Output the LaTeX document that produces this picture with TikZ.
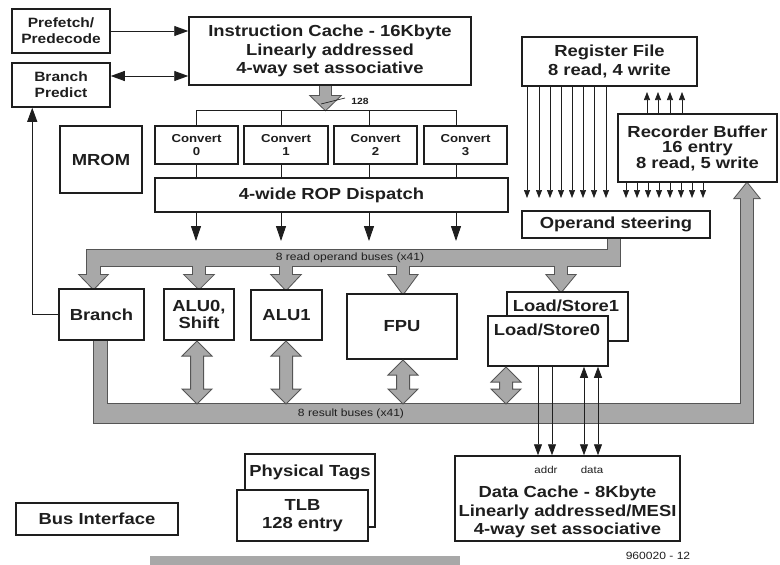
\documentclass[tikz,border=0pt]{standalone}
\usepackage{fontspec}
\setmainfont{Liberation Sans}[FakeStretch=1.15]
\usetikzlibrary{arrows.meta,calc}
\definecolor{busfill}{HTML}{A8A8A8}
\definecolor{busline}{HTML}{555555}
\definecolor{ink}{HTML}{1E1E1E}
\newcommand\myBig{\fontsize{16}{18.5}\selectfont\bfseries}
\newcommand\myTight{\fontsize{16}{15.5}\selectfont\bfseries}
\newcommand\myAlu{\fontsize{16}{16.5}\selectfont\bfseries}
\newcommand\myMid{\fontsize{13.5}{16}\selectfont\bfseries}
\newcommand\myConv{\fontsize{11.5}{13}\selectfont\bfseries}
\newcommand\myBus{\fontsize{10.5}{12}\selectfont}
\newcommand\mySmall{\fontsize{10}{11}\selectfont}
\newcommand\myTiny{\fontsize{9}{10}\selectfont\bfseries}
\newcommand\readbus[1]{%
  \path[#1] (608,236) rectangle (620,266);
  \path[#1] (87,250) rectangle (620,266);
  \path[#1] (87,250) rectangle (100,276);
  \path[#1] (80,275) -- (107,275) -- (93.5,289) -- cycle;
  \foreach \x/\t in {199/289,286/290,403/294,561/292}{%
    \path[#1] (\x-6,262) rectangle (\x+6,276);
    \path[#1] (\x-14,275) -- (\x+14,275) -- (\x,\t) -- cycle;}%
}
\newcommand\resbus[1]{%
  \path[#1] (94,335) rectangle (107,423);
  \path[#1] (94,404) rectangle (753,423);
  \path[#1] (741,197) rectangle (753,423);
  \path[#1] (735,198) -- (759,198) -- (747,183) -- cycle;
}
\newcommand\icbus[1]{%
  \path[#1] (320,80) rectangle (331,97);
  \path[#1] (311,96) -- (340,96) -- (325.5,110) -- cycle;
}
\begin{document}
\begin{tikzpicture}[x=1pt,y=-1pt,
  box/.style={draw=ink, line width=1.5pt, fill=white, inner sep=0pt, align=center, text=ink, font=\myBig},
  txt/.style={inner sep=0pt, align=center, text=ink, font=\myBig},
  wire/.style={draw=ink, line width=0.9pt},
  arr/.style={wire, -{Triangle[length=14pt,width=10pt]}},
  darr/.style={wire, -{Triangle[length=15pt,width=10pt]}},
  sarr/.style={wire, line width=0.7pt, -{Triangle[length=8pt,width=6pt]}},
  marr/.style={wire, line width=0.8pt, -{Triangle[length=11pt,width=8pt]}},
  busA/.style={draw=busline, line width=2pt, fill=busfill},
  busB/.style={fill=busfill},
  busD/.style={draw=busline, line width=1pt, fill=busfill},
  pics/dbl/.style={code={\draw[busD] (-6.5,15) -- (-15,15) -- (0,0) -- (15,15) -- (6.5,15) -- (6.5,#1-15) -- (15,#1-15) -- (0,#1) -- (-15,#1-15) -- (-6.5,#1-15) -- cycle;}}]
\useasboundingbox (0,0) rectangle (780,565);

% buses
\readbus{busA}\readbus{busB}
\resbus{busA}\resbus{busB}
\icbus{busA}\icbus{busB}
\fill[busfill] (150,556) rectangle (460,565);

% blocks
\node[box,font=\myMid,minimum width=98pt,minimum height=44pt] (pref) at (61,31) {Prefetch/\\Predecode};
\node[box,font=\myMid,minimum width=98pt,minimum height=44pt] (bpred) at (61,85) {Branch\\Predict};
\node[box,minimum width=282pt,minimum height=68pt] (icache) at (330,51) {Instruction Cache - 16Kbyte\\Linearly addressed\\4-way set associative};
\node[box,minimum width=82pt,minimum height=67pt] (mrom) at (101,159.5) {MROM};
\foreach \i/\x/\w in {0/196.5/83,1/286/84,2/375.5/83,3/465.5/83}
  \node[box,font=\myConv,minimum width=\w pt,minimum height=38pt] (conv\i) at (\x,145) {Convert\\\i};
\node[box,minimum width=353pt,minimum height=34pt] (rop) at (331.5,195) {4-wide ROP Dispatch};
\node[box,minimum width=175pt,minimum height=49pt] (regf) at (609.5,61.5) {Register File\\8 read, 4 write};
\node[box,font=\myTight,minimum width=159pt,minimum height=68pt] (rob) at (697.5,148) {Recorder Buffer\\16 entry\\8 read, 5 write};
\node[box,minimum width=188pt,minimum height=27pt] (opst) at (616,224.5) {Operand steering};
\node[box,minimum width=85pt,minimum height=51pt] (branch) at (101.5,314.5) {Branch};
\node[box,font=\myAlu,minimum width=70pt,minimum height=51pt] (alu0) at (199,314.5) {ALU0,\\Shift};
\node[box,minimum width=71pt,minimum height=50pt] (alu1) at (286.5,315) {ALU1};
\node[box,minimum width=110pt,minimum height=65pt] (fpu) at (402,326.5) {FPU};
\node[box,minimum width=121pt,minimum height=49pt] (ls1) at (567.5,316.5) {};
\node[txt] (ls1t) at (566,306) {Load/Store1};
\node[box,minimum width=120pt,minimum height=50pt] (ls0) at (548,341) {};
\node[txt] (ls0t) at (547,330) {Load/Store0};
\node[box,minimum width=130pt,minimum height=73pt] (ptags) at (310,490.5) {};
\node[txt] (ptagst) at (310,472) {Physical Tags};
\node[box,minimum width=131pt,minimum height=51pt] (tlb) at (302.5,515.5) {TLB\\128 entry};
\node[box,minimum width=162pt,minimum height=32pt] (busif) at (97,519) {Bus Interface};
\node[box,minimum width=225pt,minimum height=85pt] (dcache) at (567.5,498.5) {};
\node[txt] (dct) at (567.5,512) {Data Cache - 8Kbyte\\Linearly addressed/MESI\\4-way set associative};
\node[txt,font=\mySmall] (addr) at (546,470) {addr};
\node[txt,font=\mySmall] (data) at (592,470) {data};
\node[txt,font=\myBus] (fig) at (658,556) {960020 - 12};
\node[txt,font=\myBus] (rbl) at (350,258) {8 read operand buses (x41)};
\node[txt,font=\myBus] (resl) at (351,413.5) {8 result buses (x41)};
\node[txt,font=\myTiny] (w128) at (360,101) {128};

% bidirectional bus arrows
\pic at (197,341) {dbl=63};
\pic at (286,341) {dbl=63};
\pic at (403,360) {dbl=44};
\pic at (506,367) {dbl=37};

% connectors
\draw[arr] (pref.east) -- (pref.east -| icache.west);
\draw[wire,{Triangle[length=14pt,width=10pt]}-{Triangle[length=14pt,width=10pt]}] ($(bpred.east)+(0,-9)$) -- ($(bpred.east -| icache.west)+(0,-9)$);
\draw[arr] (branch.west) -| ($(bpred.south west)+(21,0)$);
\draw[wire,line width=0.7pt] (321,104) -- (345,98);
\coordinate (hl) at (196,110);
\coordinate (hr) at (456,110);
\draw[wire] (hl) -- (hr);
\foreach \x/\c in {196/conv0,281/conv1,369/conv2,456/conv3}{
  \draw[wire] (\x,110) -- (\x,0 |- \c.north);
  \draw[wire] (\x,0 |- \c.south) -- (\x,0 |- rop.north);
  \draw[darr] (\x,0 |- rop.south) -- (\x,241);
}
\foreach \x in {527,539,550,561,572,583,594,606}
  \draw[sarr] (\x,0 |- regf.south) -- (\x,198);
\foreach \x in {626,637,648,659,670,681,692,703}
  \draw[sarr] (\x,0 |- rob.south) -- (\x,198);
\foreach \x in {647,658,670,682}
  \draw[sarr] (\x,0 |- rob.north) -- (\x,92);
\foreach \x in {538,552}
  \draw[marr] (\x,0 |- ls0.south) -- (\x,0 |- dcache.north);
\foreach \x in {584,598}
  \draw[wire,line width=0.8pt,{Triangle[length=11pt,width=8pt]}-{Triangle[length=11pt,width=8pt]}] (\x,0 |- ls0.south) -- (\x,0 |- dcache.north);
\end{tikzpicture}
\end{document}
